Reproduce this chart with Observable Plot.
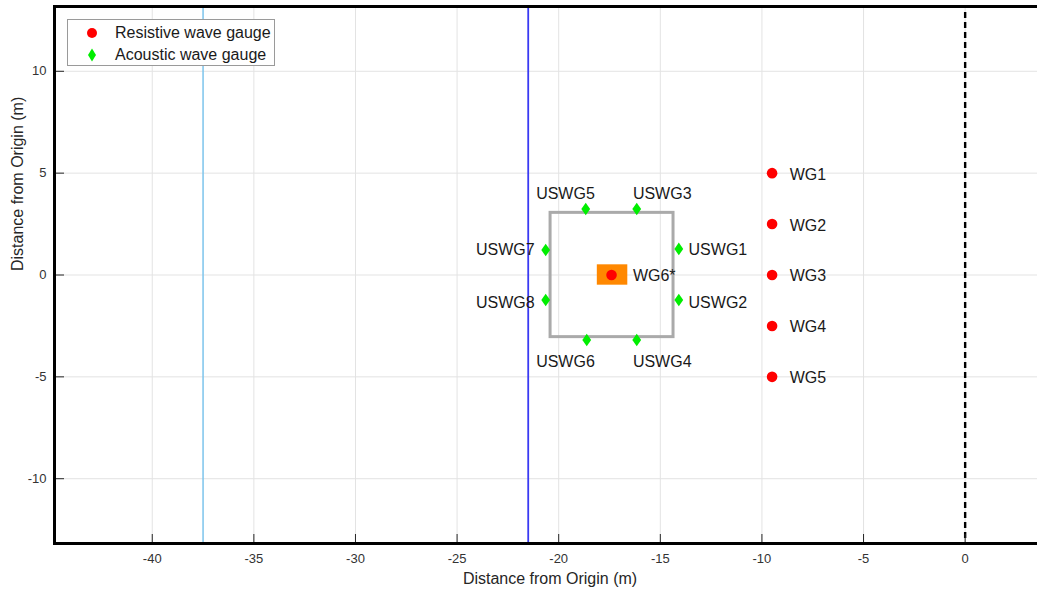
<!DOCTYPE html>
<html><head><meta charset="utf-8">
<script src="https://cdn.jsdelivr.net/npm/d3@7"></script>
<script src="https://cdn.jsdelivr.net/npm/@observablehq/plot@0.6"></script>
<style>
body{margin:0;background:#fff;}
#wrap{position:relative;width:1037px;height:590px;font-family:"Liberation Sans",Arial,sans-serif;}
#legend{position:absolute;left:67px;top:19px;width:208px;height:47px;border:1px solid #9a9a9a;background:#fff;box-sizing:border-box;}
.lg{position:absolute;left:0;height:20px;width:206px;}
.lg svg{position:absolute;left:15px;top:0;}
.lg span{position:absolute;left:47px;top:1px;font-size:16px;line-height:18px;color:#1a1a1a;white-space:nowrap;}
</style></head>
<body><div id="wrap"><div id="legend"></div></div>
<script>
// ---- data ----
const xDomain = [-44.81, 3.56];
const yDomain = [-13.18, 13.18];
const xTicks = [-40, -35, -30, -25, -20, -15, -10, -5, 0];
const yTicks = [-10, -5, 0, 5, 10];
const axisTitle = "Distance from Origin (m)";

// resistive wave gauges
const wgNames  = ["WG1", "WG2", "WG3", "WG4", "WG5", "WG6*"];
const wgX      = [-9.5, -9.5, -9.5, -9.5, -9.5, -17.4];
const wgY      = [5, 2.5, 0, -2.5, -5, 0];
const wgLabelX = [-8.63, -8.63, -8.63, -8.63, -8.63, -16.35];
const wgLabelY = [4.91, 2.41, -0.05, -2.54, -5.04, -0.05];

// acoustic wave gauges
const uswgNames  = ["USWG1", "USWG2", "USWG3", "USWG4", "USWG5", "USWG6", "USWG7", "USWG8"];
const uswgX      = [-14.09, -14.09, -16.16, -16.16, -18.67, -18.62, -20.64, -20.64];
const uswgY      = [1.28, -1.23, 3.24, -3.19, 3.24, -3.19, 1.23, -1.23];
const uswgLabelX = [-13.61, -13.61, -16.35, -16.35, -21.11, -21.11, -24.07, -24.07];
const uswgLabelY = [1.23, -1.37, 3.98, -4.27, 3.98, -4.27, 1.23, -1.37];

// structures and reference lines
const basinBox = [{x1: -20.4, x2: -14.35, y1: -3.05, y2: 3.05}];
const modelBox = [{x1: -18.1, x2: -16.6, y1: -0.5, y2: 0.5}];
const lightLineX = [-37.5];
const blueLineX = [-21.5];
const originLineX = [0];

const legendLabels = ["Resistive wave gauge", "Acoustic wave gauge"];
const legendColors = ["#ff0000", "#00ee00"];

// ---- build ----
const wg = wgNames.map((n, i) => ({n, x: wgX[i], y: wgY[i], lx: wgLabelX[i], ly: wgLabelY[i]}));
const us = uswgNames.map((n, i) => ({n, x: uswgX[i], y: uswgY[i], lx: uswgLabelX[i], ly: uswgLabelY[i]}));

const tallDiamond = {
  draw(ctx, size) {
    const r = Math.sqrt(size / Math.PI);
    ctx.moveTo(0, -r); ctx.lineTo(r * 0.7, 0); ctx.lineTo(0, r); ctx.lineTo(-r * 0.7, 0); ctx.closePath();
  }
};

const W = 1037, H = 590, mL = 54, mR = 0, mT = 6, mB = 47;
const fw = W - mL - mR, fh = H - mT - mB;
const fmt = d => String(d);

const chart = Plot.plot({
  width: W, height: H,
  marginLeft: mL, marginRight: mR, marginTop: mT, marginBottom: mB,
  style: {fontFamily: '"Liberation Sans", Arial, sans-serif', background: "#fff", overflow: "visible"},
  x: {domain: xDomain},
  y: {domain: yDomain},
  marks: [
    Plot.gridX(xTicks, {stroke: "#e3e3e3", strokeOpacity: 1}),
    Plot.gridY(yTicks, {stroke: "#e3e3e3", strokeOpacity: 1}),
    Plot.ruleX(lightLineX, {x: d => d, stroke: "#7cc4ec", strokeWidth: 1.5}),
    Plot.ruleX(blueLineX, {x: d => d, stroke: "#3a3af2", strokeWidth: 1.8}),
    Plot.ruleX(originLineX, {x: d => d, stroke: "#000", strokeWidth: 2.4, strokeDasharray: "6,4", insetTop: 6}),
    Plot.rect(basinBox, {x1: "x1", x2: "x2", y1: "y1", y2: "y2", fill: "none", stroke: "#aaaaaa", strokeWidth: 3}),
    Plot.rect(modelBox, {x1: "x1", x2: "x2", y1: "y1", y2: "y2", fill: "#ff8800"}),
    Plot.dot(wg, {x: "x", y: "y", r: 5.3, fill: legendColors[0], stroke: "none"}),
    Plot.dot(us, {x: "x", y: "y", r: 6.3, symbol: tallDiamond, fill: legendColors[1], stroke: "none"}),
    Plot.text(wg, {x: "lx", y: "ly", text: "n", textAnchor: "start", lineAnchor: "middle", fontSize: 16, fill: "#1a1a1a"}),
    Plot.text(us, {x: "lx", y: "ly", text: "n", textAnchor: "start", lineAnchor: "middle", fontSize: 16, fill: "#1a1a1a"}),
    Plot.ruleX(xTicks, {x: d => d, insetTop: fh - 9, stroke: "#262626", strokeWidth: 1}),
    Plot.ruleY(yTicks, {y: d => d, insetRight: fw - 10, stroke: "#262626", strokeWidth: 1}),
    Plot.frame({anchor: "left", stroke: "#000", strokeWidth: 3}),
    Plot.frame({anchor: "top", stroke: "#000", strokeWidth: 3}),
    Plot.frame({anchor: "bottom", stroke: "#000", strokeWidth: 3}),
    Plot.axisX(xTicks, {anchor: "bottom", tickSize: 0, tickPadding: 10, fontSize: 13, fill: "#333", label: null, tickFormat: fmt}),
    Plot.axisY(yTicks, {anchor: "left", tickSize: 0, tickPadding: 8, fontSize: 13, fill: "#333", label: null, tickFormat: fmt}),
    Plot.text([axisTitle], {frameAnchor: "bottom", dx: 4, dy: 35, fontSize: 16, fill: "#262626", lineAnchor: "middle"}),
    Plot.text([axisTitle], {frameAnchor: "left", rotate: -90, dx: -37, dy: -4, fontSize: 16, fill: "#262626", lineAnchor: "middle"})
  ]
});
document.getElementById("wrap").insertBefore(chart, document.getElementById("legend"));

// legend
const lg = document.getElementById("legend");
legendLabels.forEach((t, i) => {
  const row = document.createElement("div");
  row.className = "lg";
  row.style.top = (i === 0 ? 3 : 25) + "px";
  const shape = i === 0
    ? `<circle cx="9" cy="10" r="5" fill="${legendColors[i]}"/>`
    : `<path d="M9,3.5L13,10L9,16.5L5,10Z" fill="${legendColors[i]}"/>`;
  row.innerHTML = `<svg width="18" height="20">${shape}</svg><span>${t}</span>`;
  lg.appendChild(row);
});
</script>
</body></html>
